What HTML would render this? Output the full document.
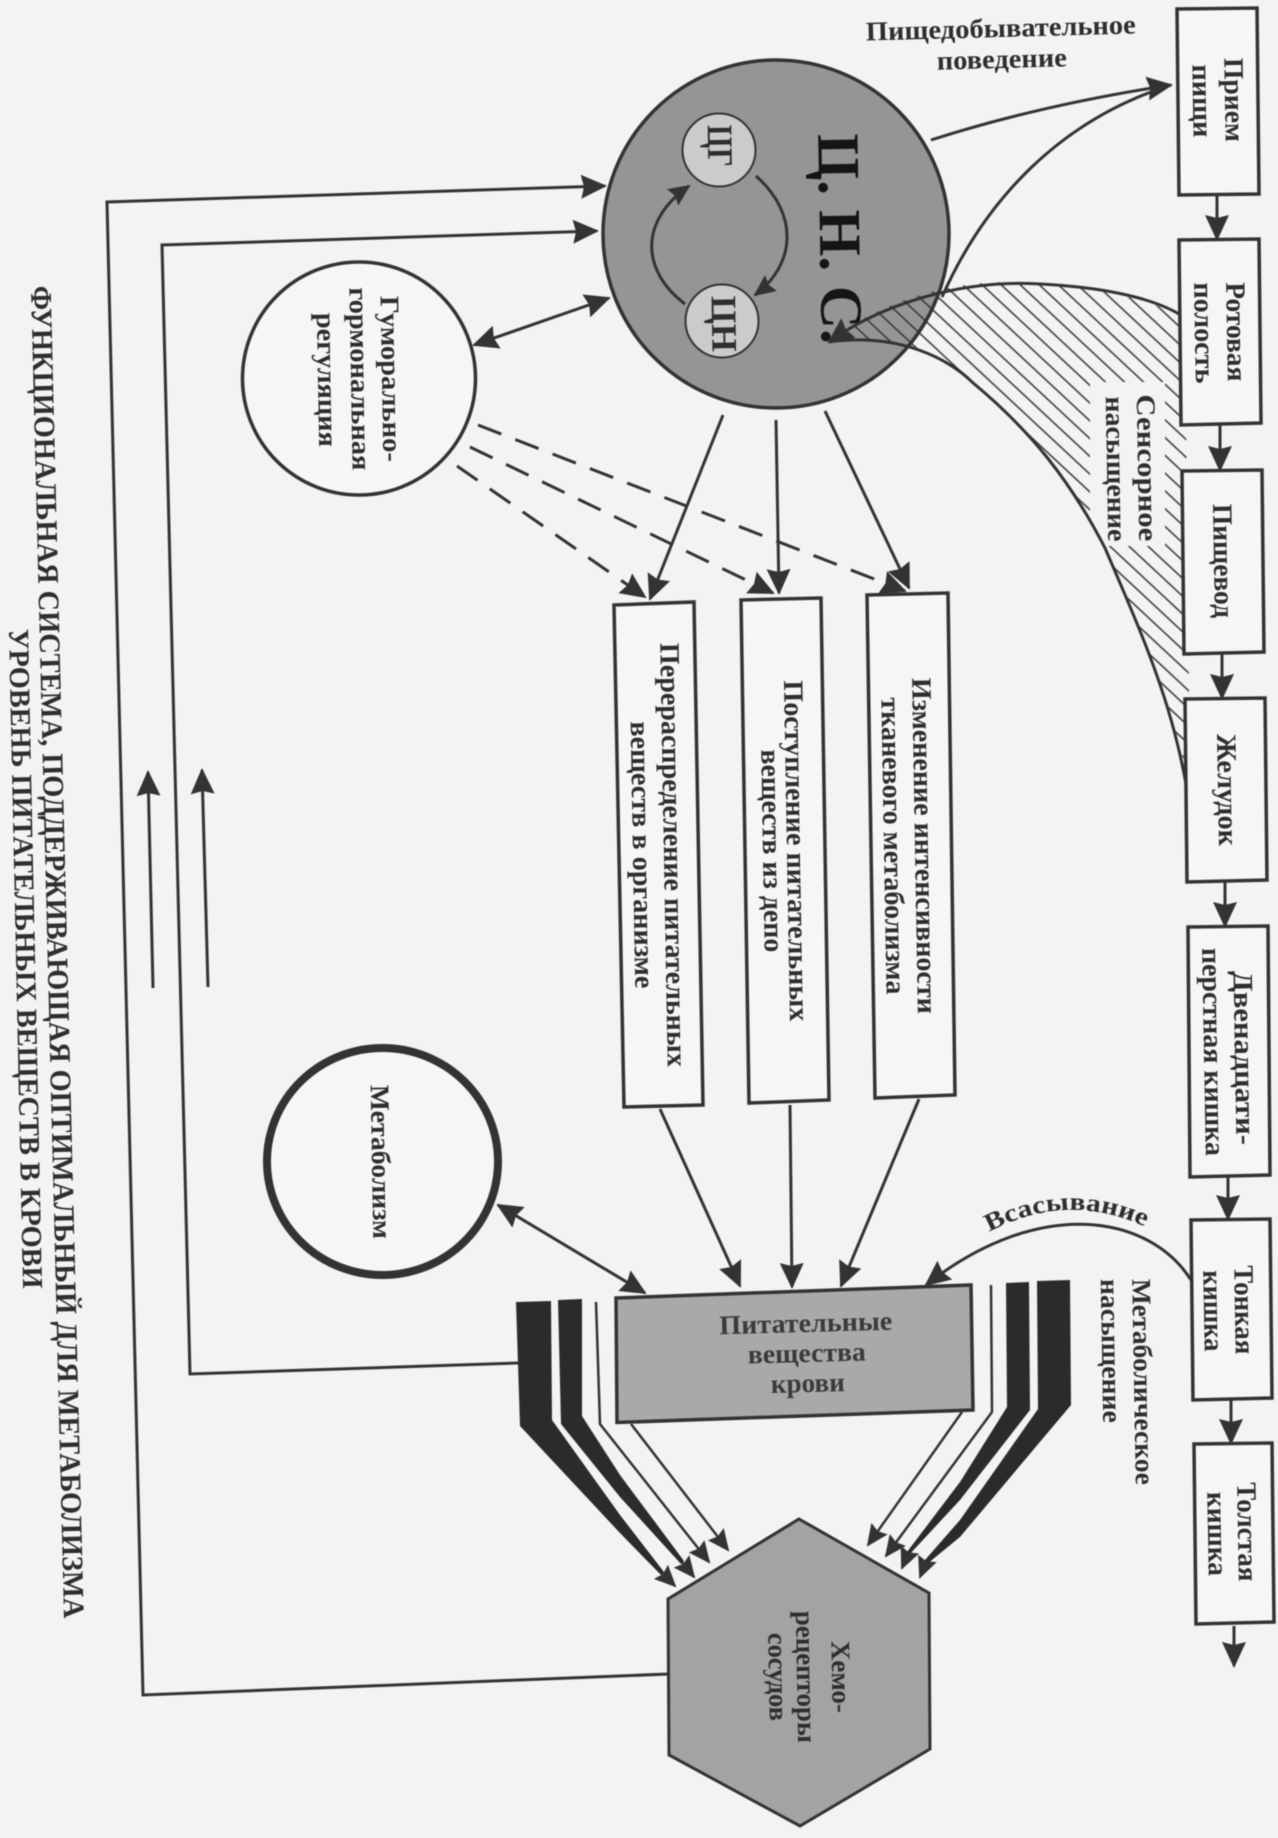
<!DOCTYPE html>
<html lang="ru"><head><meta charset="utf-8"><title>Функциональная система</title>
<style>
html,body{margin:0;padding:0;background:#f3f3f2;width:1278px;height:1838px;overflow:hidden}
svg{display:block;filter:blur(.6px)}
text{font-family:"Liberation Serif","Noto Serif CJK SC",serif;font-weight:bold;fill:#2e2e2e}
.l{fill:none;stroke:#333;stroke-width:3}
.t{fill:none;stroke:#333;stroke-width:2.5}
.box{fill:#f6f6f5;stroke:#333;stroke-width:3.5}
</style></head><body>
<svg xmlns="http://www.w3.org/2000/svg" width="1278" height="1838" viewBox="0 0 1278 1838">
<defs>
<marker id="a" markerUnits="userSpaceOnUse" markerWidth="26" markerHeight="26" refX="24" refY="13" orient="auto-start-reverse"><path d="M0,1 L26,13 L0,25 L3,13 Z" fill="#333"/></marker>
<marker id="s" markerUnits="userSpaceOnUse" markerWidth="22" markerHeight="20" refX="20" refY="10" orient="auto-start-reverse"><path d="M0,0 L22,10 L0,20 L3,10 Z" fill="#333"/></marker>
<pattern id="h" patternUnits="userSpaceOnUse" width="13" height="13" patternTransform="rotate(43)"><path d="M0 6.5H13" stroke="#333" stroke-width="1.5"/></pattern>
</defs>
<rect width="1278" height="1838" fill="#f3f3f2"/>

<!-- CNS -->
<ellipse cx="776" cy="234" rx="173" ry="174" fill="#959595" stroke="#333" stroke-width="3.5"/>
<circle cx="719" cy="150" r="36.5" fill="#cbcbca" stroke="#333" stroke-width="2"/>
<circle cx="722" cy="321" r="36.5" fill="#cbcbca" stroke="#333" stroke-width="2"/>
<text transform="translate(708,146) rotate(89)" font-size="36" text-anchor="middle" textLength="42" lengthAdjust="spacingAndGlyphs">ЦГ</text>
<text transform="translate(712,324) rotate(89)" font-size="36" text-anchor="middle" textLength="56" lengthAdjust="spacingAndGlyphs">ЦН</text>
<text transform="translate(820,239) rotate(89)" font-size="60" text-anchor="middle" textLength="210" lengthAdjust="spacingAndGlyphs" style="fill:#151515">Ц. Н. С.</text>
<path class="l" d="M756,176 C800,215 795,265 755,295" marker-end="url(#s)"/>
<path class="l" d="M685,304 C640,270 640,220 689,186" marker-end="url(#s)"/>

<!-- Sensory hatch -->
<path d="M829,342 C880,300 960,275 1040,284 C1110,290 1150,300 1185,318 L1190,790 C1172,700 1140,630 1105,548 C1070,480 1030,430 972,382 C950,360 900,335 829,342 Z" fill="url(#h)"/>
<rect x="1090" y="382" width="75" height="164" fill="#f3f3f2"/>
<path class="l" d="M1179,314 C1150,297 1100,287 1040,284 C960,279 880,305 829,342" marker-end="url(#a)"/>
<path class="l" d="M1187,790 C1172,700 1140,630 1105,548 C1070,480 1030,430 972,382 C950,360 900,332 829,342"/>
<text transform="translate(1138,468) rotate(89)" font-size="27" text-anchor="middle" textLength="147" lengthAdjust="spacingAndGlyphs">Сенсорное</text>
<text transform="translate(1107,469) rotate(89)" font-size="27" text-anchor="middle" textLength="145" lengthAdjust="spacingAndGlyphs">насыщение</text>

<!-- Feeding arrows -->
<path class="l" d="M931,140 Q1040,105 1171,85" marker-end="url(#a)"/>
<path class="l" d="M942,297 C985,200 1060,120 1171,85"/>
<text transform="translate(1001,37) rotate(-1.5)" font-size="27" text-anchor="middle" textLength="270" lengthAdjust="spacingAndGlyphs">Пищедобывательное</text>
<text transform="translate(1002,68) rotate(-1.5)" font-size="27" text-anchor="middle" textLength="130" lengthAdjust="spacingAndGlyphs">поведение</text>

<!-- Digestive chain -->
<polygon class="box" points="1177,9 1257,8 1259,194 1179,195"/>
<polygon class="box" points="1179,240 1259,239 1261,423 1181,425"/>
<polygon class="box" points="1182,471 1262,470 1264,652 1184,654"/>
<polygon class="box" points="1185,699 1265,698 1267,880 1187,882"/>
<polygon class="box" points="1188,927 1268,926 1270,1175 1190,1177"/>
<polygon class="box" points="1191,1220 1270,1219 1272,1398 1193,1400"/>
<polygon class="box" points="1194,1444 1272,1443 1274,1622 1196,1624"/>
<path class="l" d="M1217,195 L1217,239" marker-end="url(#a)"/>
<path class="l" d="M1220,425 L1220,470" marker-end="url(#a)"/>
<path class="l" d="M1222,654 L1222,698" marker-end="url(#a)"/>
<path class="l" d="M1225,882 L1225,926" marker-end="url(#a)"/>
<path class="l" d="M1228,1177 L1228,1219" marker-end="url(#a)"/>
<path class="l" d="M1231,1400 L1231,1443" marker-end="url(#a)"/>
<path class="l" d="M1234,1626 L1234,1666" marker-end="url(#a)"/>

<text transform="translate(1225,100) rotate(89)" font-size="28" text-anchor="middle" textLength="84" lengthAdjust="spacingAndGlyphs">Прием</text>
<text transform="translate(1193,101) rotate(89)" font-size="28" text-anchor="middle" textLength="73" lengthAdjust="spacingAndGlyphs">пищи</text>
<text transform="translate(1227,332) rotate(89)" font-size="28" text-anchor="middle" textLength="99" lengthAdjust="spacingAndGlyphs">Ротовая</text>
<text transform="translate(1195,333) rotate(89)" font-size="28" text-anchor="middle" textLength="101" lengthAdjust="spacingAndGlyphs">полость</text>
<text transform="translate(1214,561) rotate(89)" font-size="28" text-anchor="middle" textLength="114" lengthAdjust="spacingAndGlyphs">Пищевод</text>
<text transform="translate(1218,790) rotate(89)" font-size="28" text-anchor="middle" textLength="112" lengthAdjust="spacingAndGlyphs">Желудок</text>
<text transform="translate(1235,1058) rotate(89)" font-size="28" text-anchor="middle" textLength="174" lengthAdjust="spacingAndGlyphs">Двенадцати-</text>
<text transform="translate(1204,1052) rotate(89)" font-size="28" text-anchor="middle" textLength="208" lengthAdjust="spacingAndGlyphs">перстная кишка</text>
<text transform="translate(1235,1310) rotate(89)" font-size="28" text-anchor="middle" textLength="89" lengthAdjust="spacingAndGlyphs">Тонкая</text>
<text transform="translate(1204,1311) rotate(89)" font-size="28" text-anchor="middle" textLength="81" lengthAdjust="spacingAndGlyphs">кишка</text>
<text transform="translate(1238,1532) rotate(89)" font-size="28" text-anchor="middle" textLength="99" lengthAdjust="spacingAndGlyphs">Толстая</text>
<text transform="translate(1208,1534) rotate(89)" font-size="28" text-anchor="middle" textLength="84" lengthAdjust="spacingAndGlyphs">кишка</text>
<text transform="translate(1134,1382) rotate(89)" font-size="27" text-anchor="middle" textLength="206" lengthAdjust="spacingAndGlyphs">Метаболическое</text>
<text transform="translate(1102,1351) rotate(89)" font-size="27" text-anchor="middle" textLength="144" lengthAdjust="spacingAndGlyphs">насыщение</text>

<!-- Effect boxes -->
<polygon class="box" points="867,595 948,593 955,1095 875,1098"/>
<polygon class="box" points="741,600 821,598 829,1100 749,1103"/>
<polygon class="box" points="614,605 694,602 703,1105 624,1107"/>
<text transform="translate(915,846) rotate(89)" font-size="28" text-anchor="middle" textLength="336" lengthAdjust="spacingAndGlyphs">Изменение интенсивности</text>
<text transform="translate(884,846) rotate(89)" font-size="28" text-anchor="middle" textLength="297" lengthAdjust="spacingAndGlyphs">тканевого метаболизма</text>
<text transform="translate(787,851) rotate(89)" font-size="28" text-anchor="middle" textLength="341" lengthAdjust="spacingAndGlyphs">Поступление питательных</text>
<text transform="translate(763,851) rotate(89)" font-size="28" text-anchor="middle" textLength="203" lengthAdjust="spacingAndGlyphs">веществ из депо</text>
<text transform="translate(664,855) rotate(89)" font-size="28" text-anchor="middle" textLength="424" lengthAdjust="spacingAndGlyphs">Перераспределение питательных</text>
<text transform="translate(633,855) rotate(89)" font-size="28" text-anchor="middle" textLength="267" lengthAdjust="spacingAndGlyphs">веществ в организме</text>

<!-- CNS to boxes -->
<path class="l" d="M723,415 L650,599" marker-end="url(#a)"/>
<path class="l" d="M776,420 L779,593" marker-end="url(#a)"/>
<path class="l" d="M825,411 L909,588" marker-end="url(#a)"/>

<!-- Humoral -->
<circle cx="359" cy="378.5" r="116.5" fill="#f6f6f5" stroke="#333" stroke-width="3.5"/>
<text transform="translate(382,379) rotate(89)" font-size="27" text-anchor="middle" textLength="166" lengthAdjust="spacingAndGlyphs">Гуморально-</text>
<text transform="translate(351,379) rotate(89)" font-size="27" text-anchor="middle" textLength="183" lengthAdjust="spacingAndGlyphs">гормональная</text>
<text transform="translate(318,380) rotate(89)" font-size="27" text-anchor="middle" textLength="134" lengthAdjust="spacingAndGlyphs">регуляция</text>
<path class="l" d="M474,345 L609,298" marker-start="url(#a)" marker-end="url(#a)"/>
<path class="l" d="M478,425 L905,591" stroke-dasharray="25 15" marker-end="url(#a)"/>
<path class="l" d="M470,447 L773,593" stroke-dasharray="25 15" marker-end="url(#a)"/>
<path class="l" d="M457,466 L645,597" stroke-dasharray="25 15" marker-end="url(#a)"/>

<!-- Feedback loops -->
<path class="l" d="M669,1674 L143,1695 L107,202 L605,186" marker-end="url(#a)"/>
<path class="l" d="M518,1363 L190,1374 L162,245 L597,231" marker-end="url(#a)"/>
<path class="l" d="M153,988 L148,772" marker-end="url(#a)"/>
<path class="l" d="M208,987 L202,770" marker-end="url(#a)"/>

<!-- Metabolism -->
<ellipse cx="382.5" cy="1161.5" rx="115.5" ry="113.5" fill="#f6f6f5" stroke="#333" stroke-width="8"/>
<text transform="translate(372,1162) rotate(89)" font-size="27" text-anchor="middle" textLength="154" lengthAdjust="spacingAndGlyphs">Метаболизм</text>
<path class="l" d="M498,1205 L645,1293" marker-start="url(#a)" marker-end="url(#a)"/>

<!-- Boxes to blood -->
<path class="l" d="M660,1109 L740,1286" marker-end="url(#a)"/>
<path class="l" d="M790,1105 L792,1287" marker-end="url(#a)"/>
<path class="l" d="M919,1099 L841,1286" marker-end="url(#a)"/>

<!-- Absorption -->
<path class="l" d="M1191,1280 C1150,1215 1040,1195 926,1285" marker-end="url(#a)"/>
<path id="abs" d="M989,1232 Q1068,1190 1148,1228" fill="none"/>
<text font-size="25"><textPath href="#abs" startOffset="0" textLength="162" lengthAdjust="spacingAndGlyphs">Всасывание</textPath></text>

<!-- Blood -->
<polygon points="616,1298 971,1285 973,1410 617,1422.5" fill="#a9a9a8" stroke="#333" stroke-width="3.5"/>
<text transform="translate(806,1332) rotate(-1.5)" font-size="27" text-anchor="middle" textLength="173" lengthAdjust="spacingAndGlyphs" style="fill:#3a3a3a">Питательные</text>
<text transform="translate(807,1362) rotate(-1.5)" font-size="27" text-anchor="middle" textLength="118" lengthAdjust="spacingAndGlyphs" style="fill:#3a3a3a">вещества</text>
<text transform="translate(808,1392) rotate(-1.5)" font-size="27" text-anchor="middle" textLength="74" lengthAdjust="spacingAndGlyphs" style="fill:#3a3a3a">крови</text>

<!-- Bars left -->
<polygon points="516,1302 551,1301 552,1420 620,1515 664,1572 661,1575 620,1533 520,1426" fill="#2b2b2b"/>
<polygon points="558,1300 582,1299 582,1416 620,1475 684,1561 681,1564 620,1497 561,1424" fill="#2b2b2b"/>
<path class="t" d="M662,1573 L675,1586" marker-end="url(#s)"/>
<path class="t" d="M682,1562 L694,1577" marker-end="url(#s)"/>
<path class="t" d="M596,1302 L600,1424 L709,1562" marker-end="url(#s)"/>
<path class="t" d="M631,1424 L728,1550" marker-end="url(#s)"/>

<!-- Bars right -->
<polygon points="1037,1281 1070,1280 1071,1405 960,1537 927,1564 925,1560 960,1520 1038,1409" fill="#2b2b2b"/>
<polygon points="1006,1283 1029,1282 1030,1410 960,1500 909,1555 907,1552 960,1482 1007,1407" fill="#2b2b2b"/>
<path class="t" d="M926,1562 L920,1577" marker-end="url(#s)"/>
<path class="t" d="M908,1554 L902,1568" marker-end="url(#s)"/>
<path class="t" d="M991,1285 L992,1412 L886,1556" marker-end="url(#s)"/>
<path class="t" d="M962,1412 L868,1545" marker-end="url(#s)"/>

<!-- Hexagon -->
<polygon points="799,1519 929,1593 930,1749 800,1826 669,1755 668,1599" fill="#a3a3a2" stroke="#333" stroke-width="3"/>
<text transform="translate(832,1677) rotate(89)" font-size="27" text-anchor="middle" textLength="72" lengthAdjust="spacingAndGlyphs">Хемо-</text>
<text transform="translate(797,1677) rotate(89)" font-size="27" text-anchor="middle" textLength="132" lengthAdjust="spacingAndGlyphs">рецепторы</text>
<text transform="translate(769,1677) rotate(89)" font-size="27" text-anchor="middle" textLength="88" lengthAdjust="spacingAndGlyphs">сосудов</text>

<!-- Title -->
<text transform="translate(31,286) rotate(88.58)" font-size="30" textLength="1333" lengthAdjust="spacingAndGlyphs">ФУНКЦИОНАЛЬНАЯ СИСТЕМА, ПОДДЕРЖИВАЮЩАЯ ОПТИМАЛЬНЫЙ ДЛЯ МЕТАБОЛИЗМА</text>
<text transform="translate(9,629) rotate(88.78)" font-size="29" textLength="660" lengthAdjust="spacingAndGlyphs">УРОВЕНЬ ПИТАТЕЛЬНЫХ ВЕЩЕСТВ В КРОВИ</text>
</svg>
</body></html>
